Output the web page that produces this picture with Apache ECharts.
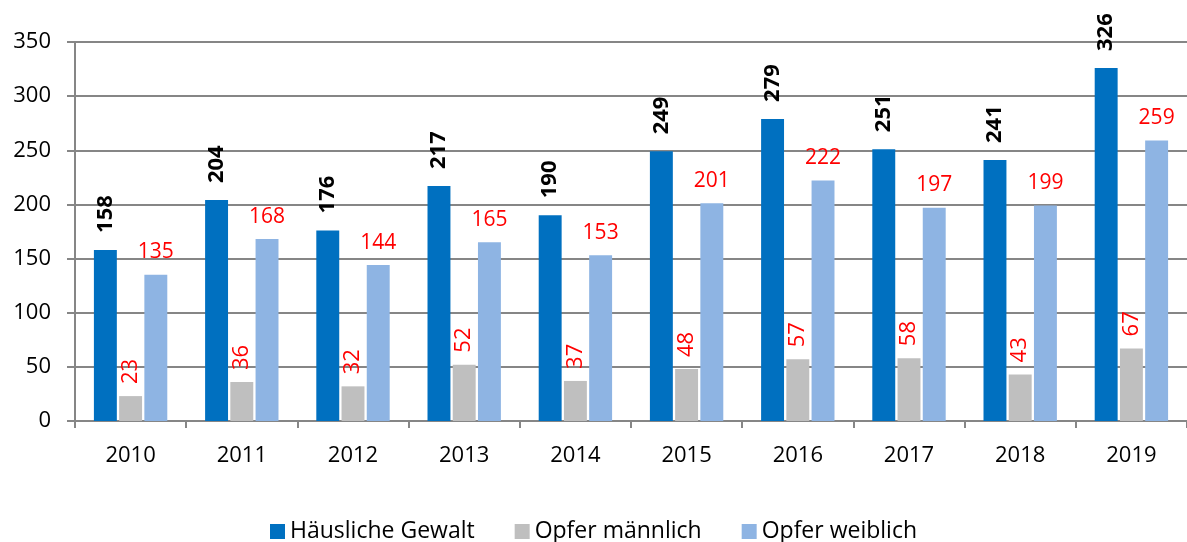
<!DOCTYPE html>
<html>
<head>
<meta charset="utf-8">
<script src="https://cdn.jsdelivr.net/npm/echarts@6/dist/echarts.min.js"></script>
<style>
  html, body { margin: 0; padding: 0; background: #fff; }
  #chart { width: 1187px; height: 542px; }
</style>
</head>
<body>
<div id="chart"></div>
<script>
var years = ['2010', '2011', '2012', '2013', '2014', '2015', '2016', '2017', '2018', '2019'];
var haeuslicheGewalt = [158, 204, 176, 217, 190, 249, 279, 251, 241, 326];
var opferMaennlich = [23, 36, 32, 52, 37, 48, 57, 58, 43, 67];
var opferWeiblich = [135, 168, 144, 165, 153, 201, 222, 197, 199, 259];

var chart = echarts.init(document.getElementById('chart'));
var font = 'Open Sans, Noto Sans, sans-serif';

var option = {
	animation: false,
	color: ['#0070C0', '#BFBFBF', '#8EB4E3'],
	textStyle: { fontFamily: font },
	grid: {
		left: 75,
		right: 0,
		top: 42,
		bottom: 121
	},
	legend: {
		bottom: -6,
		left: 'center',
		itemWidth: 15,
		itemHeight: 15,
		itemGap: 40,
		icon: 'rect',
		textStyle: { fontSize: 23, color: '#000', fontFamily: font },
		data: ['Häusliche Gewalt', 'Opfer männlich', 'Opfer weiblich']
	},
	xAxis: {
		type: 'category',
		data: years,
		axisLine: { lineStyle: { color: '#868686', width: 2 } },
		axisTick: { show: true, length: 7, lineStyle: { color: '#868686', width: 2 } },
		axisLabel: { fontSize: 22, color: '#000', margin: 24 }
	},
	yAxis: {
		type: 'value',
		min: 0,
		max: 350,
		interval: 50,
		axisLine: { show: true, lineStyle: { color: '#868686', width: 2 } },
		axisTick: { show: true, length: 8, lineStyle: { color: '#868686', width: 2 } },
		splitLine: { lineStyle: { color: '#868686', width: 2 } },
		axisLabel: { fontSize: 22, color: '#000', margin: 24 }
	},
	series: [
		{
			name: 'Häusliche Gewalt',
			type: 'bar',
			data: haeuslicheGewalt,
			barGap: '10%',
			barCategoryGap: '34%',
			label: {
				show: true,
				position: 'top',
				rotate: 90,
				align: 'left',
				verticalAlign: 'middle',
				distance: 17,
				fontSize: 22,
				fontWeight: 'bold',
				color: '#000'
			}
		},
		{
			name: 'Opfer männlich',
			type: 'bar',
			data: opferMaennlich,
			barGap: '10%',
			barCategoryGap: '34%',
			label: {
				show: true,
				position: 'top',
				rotate: 90,
				align: 'left',
				verticalAlign: 'middle',
				distance: 12,
				fontSize: 22,
				color: '#FF0000'
			}
		},
		{
			name: 'Opfer weiblich',
			type: 'bar',
			data: opferWeiblich,
			barGap: '10%',
			barCategoryGap: '34%',
			label: {
				show: true,
				position: 'top',
				distance: 12,
				fontSize: 21,
				color: '#FF0000'
			}
		}
	]
};
chart.setOption(option);
</script>
</body>
</html>
